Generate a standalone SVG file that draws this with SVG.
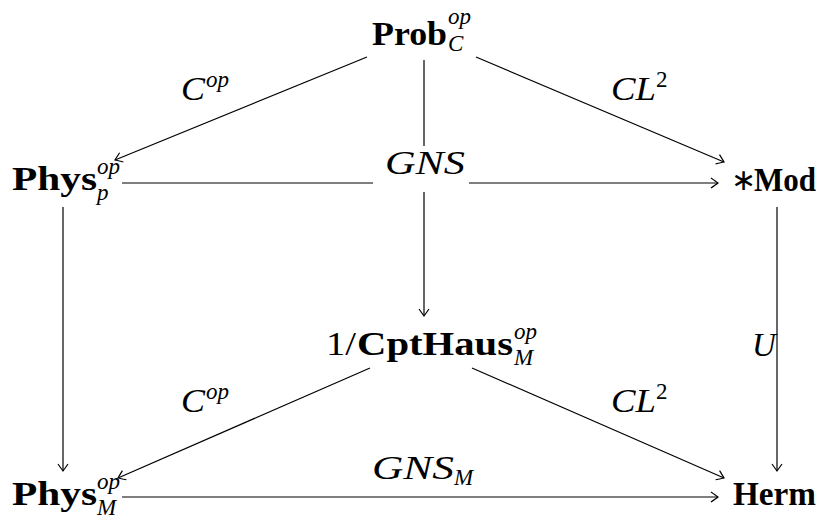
<svg xmlns="http://www.w3.org/2000/svg" width="821" height="519" viewBox="0 0 821 519">
<style>
.b{font-family:"Liberation Serif","Times New Roman",serif;font-weight:bold;font-size:34px;fill:#000}
.m{font-family:"Liberation Serif","Times New Roman",serif;font-style:italic;font-size:33px;fill:#000}
.s{font-family:"Liberation Serif","Times New Roman",serif;font-style:italic;font-size:23px;fill:#000}
.r{font-family:"Liberation Serif","Times New Roman",serif;font-size:33px;fill:#000}
.r2{font-family:"Liberation Serif","Times New Roman",serif;font-size:23px;fill:#000}
.e{stroke:#000;stroke-width:1.2;fill:none;marker-end:url(#ah)}
</style>
<defs>
<marker id="ah" markerUnits="userSpaceOnUse" markerWidth="16" markerHeight="16" viewBox="-10 -8 12 16" refX="0" refY="0" orient="auto">
<path d="M-7,-5 Q-2,-1.5 0,0 Q-2,1.5 -7,5" stroke="#000" stroke-width="1.2" fill="none"/>
</marker>
</defs>
<rect width="821" height="519" fill="#fff"/>
<g id="edges">
<line class="e" x1="367" y1="57" x2="115" y2="160"/>
<line class="e" x1="476" y1="57" x2="724" y2="162"/>
<line class="e" x1="424" y1="60" x2="424" y2="316"/>
<line class="e" x1="122" y1="183" x2="718" y2="183"/>
<line class="e" x1="63" y1="207" x2="63" y2="471"/>
<line class="e" x1="777" y1="207" x2="777" y2="471"/>
<line class="e" x1="370" y1="368" x2="118" y2="478"/>
<line class="e" x1="472" y1="368" x2="724" y2="478"/>
<line class="e" x1="122" y1="497" x2="718" y2="497"/>
<rect x="373" y="146" width="96" height="46" fill="#fff"/>
<text class="m" x="385" y="174" textLength="80" lengthAdjust="spacingAndGlyphs">GNS</text>
<text class="m" x="181" y="100" textLength="24" lengthAdjust="spacingAndGlyphs">C</text>
<text class="s" x="206" y="87">op</text>
<text class="m" x="611" y="100" textLength="45" lengthAdjust="spacingAndGlyphs">CL</text>
<text class="r2" x="656" y="87">2</text>
<text class="m" x="752" y="356">U</text>
<text class="m" x="181" y="412" textLength="24" lengthAdjust="spacingAndGlyphs">C</text>
<text class="s" x="206" y="399">op</text>
<text class="m" x="611" y="412" textLength="45" lengthAdjust="spacingAndGlyphs">CL</text>
<text class="r2" x="656" y="399">2</text>
<text class="m" x="372" y="479" textLength="82" lengthAdjust="spacingAndGlyphs">GNS</text>
<text class="s" x="454" y="485">M</text>
</g>
<g id="prob">
<text class="b" x="372" y="45" textLength="75" lengthAdjust="spacingAndGlyphs">Prob</text>
<text class="s" x="448" y="24">op</text>
<text class="s" x="448" y="51">C</text>
</g>
<g id="physp">
<text class="b" x="12" y="190" textLength="85" lengthAdjust="spacingAndGlyphs">Phys</text>
<text class="s" x="97" y="174">op</text>
<text class="s" x="97" y="200">p</text>
</g>
<g id="mod">
<text class="b" x="731" y="191"><tspan font-weight="normal" font-size="30" dy="-1">∗</tspan><tspan x="754" dy="1" textLength="62" lengthAdjust="spacingAndGlyphs">Mod</tspan></text>
</g>
<g id="cpthaus">
<text class="r" x="326" y="355" textLength="30" lengthAdjust="spacingAndGlyphs">1/</text>
<text class="b" x="357" y="355" textLength="156" lengthAdjust="spacingAndGlyphs">CptHaus</text>
<text class="s" x="514" y="339">op</text>
<text class="s" x="514" y="365">M</text>
</g>
<g id="physm">
<text class="b" x="12" y="505" textLength="85" lengthAdjust="spacingAndGlyphs">Phys</text>
<text class="s" x="97" y="489">op</text>
<text class="s" x="97" y="515">M</text>
</g>
<g id="herm">
<text class="b" x="733" y="505" textLength="83" lengthAdjust="spacingAndGlyphs">Herm</text>
</g>
</svg>
